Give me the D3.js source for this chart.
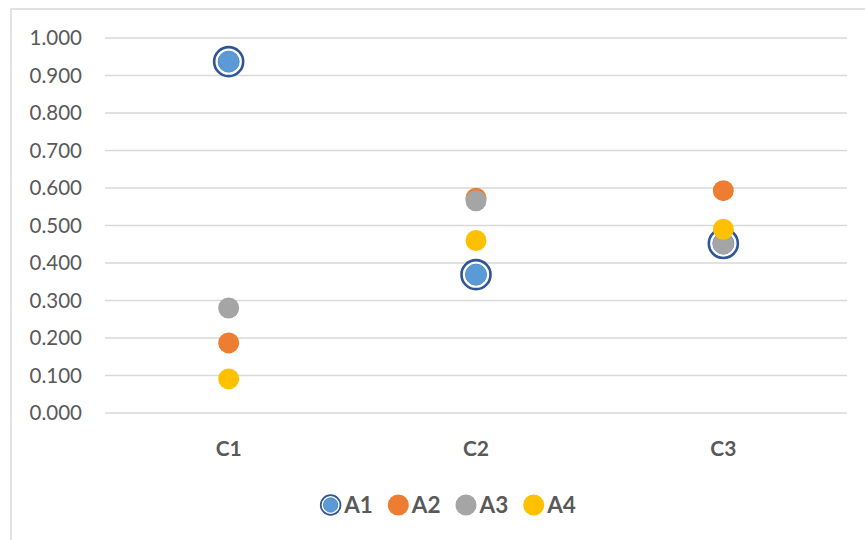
<!DOCTYPE html>
<html lang="en">
<head>
  <meta charset="UTF-8">
  <title>A1-A4 by category</title>
  <script src="https://d3js.org/d3.v7.min.js"></script>
  <style>
    body { margin: 0; background: #fff; font-family: Lato, "Open Sans", sans-serif; }
    .tick-label { font-size: 20.5px; fill: #595959; }
    .cat-label { font-size: 21px; font-weight: bold; fill: #595959; }
    .legend-label { font-size: 22.5px; font-weight: bold; fill: #595959; }
  </style>
</head>
<body>
  <div id="chart"></div>
  <script>
    const categories = ["C1", "C2", "C3"];
    const seriesNames = ["A1", "A2", "A3", "A4"];
    const seriesColors = ["#5B9BD5", "#ED7D31", "#A5A5A5", "#FFC000"];
    const A1 = [0.937, 0.369, 0.452];
    const A2 = [0.187, 0.573, 0.593];
    const A3 = [0.280, 0.566, 0.451];
    const A4 = [0.091, 0.460, 0.490];
    const yTicks = [0, 0.1, 0.2, 0.3, 0.4, 0.5, 0.6, 0.7, 0.8, 0.9, 1.0];

    const allSeries = [A1, A2, A3, A4];

    const W = 865, H = 540;
    const svg = d3.select("#chart").append("svg")
      .attr("width", W)
      .attr("height", H);

    // chart area frame (runs off the right and bottom edges)
    svg.append("rect")
      .attr("x", 11).attr("y", 9)
      .attr("width", 900).attr("height", 600)
      .attr("fill", "#fff")
      .attr("stroke", "#D9D9D9")
      .attr("stroke-width", 1.5);

    const x = d3.scaleBand()
      .domain(categories)
      .range([105, 847]);

    const y = d3.scaleLinear()
      .domain([0, 1])
      .range([413, 38]);

    // gridlines
    svg.append("g")
      .selectAll("line")
      .data(yTicks)
      .enter().append("line")
      .attr("x1", 105).attr("x2", 847)
      .attr("y1", d => y(d)).attr("y2", d => y(d))
      .attr("stroke", "#D9D9D9")
      .attr("stroke-width", 1.5);

    // y tick labels
    svg.append("g")
      .selectAll("text")
      .data(yTicks)
      .enter().append("text")
      .attr("class", "tick-label")
      .attr("x", 82)
      .attr("y", d => y(d))
      .attr("dy", "0.35em")
      .attr("text-anchor", "end")
      .text(d3.format(".3f"));

    // category labels
    svg.append("g")
      .selectAll("text")
      .data(categories)
      .enter().append("text")
      .attr("class", "cat-label")
      .attr("x", d => x(d) + x.bandwidth() / 2)
      .attr("y", 449)
      .attr("dy", "0.35em")
      .attr("text-anchor", "middle")
      .text(d => d);

    // s = scale of the marker (legend uses smaller A1 marker)
    function drawMarker(g, i, cx, cy, s) {
      if (i === 0) {
        g.append("circle")
          .attr("cx", cx).attr("cy", cy).attr("r", 14.5 * s)
          .attr("fill", "#fff")
          .attr("stroke", "#2F5597")
          .attr("stroke-width", 2.6 * s);
        g.append("circle")
          .attr("cx", cx).attr("cy", cy).attr("r", 10.5 * s)
          .attr("fill", seriesColors[0])
          .attr("stroke", "#4F8BCB")
          .attr("stroke-width", 1);
      } else {
        g.append("circle")
          .attr("cx", cx).attr("cy", cy).attr("r", 10.5)
          .attr("fill", seriesColors[i]);
      }
    }

    // points, drawn series by series so later ones sit on top
    const pts = svg.append("g");
    allSeries.forEach((vals, i) => {
      const g = pts.append("g");
      vals.forEach((v, j) => {
        drawMarker(g, i, x(categories[j]) + x.bandwidth() / 2, y(v), 1);
      });
    });

    // legend
    const legend = svg.append("g");
    const items = [];
    seriesNames.forEach((name, i) => {
      const g = legend.append("g");
      const t = g.append("text")
        .attr("class", "legend-label")
        .attr("dy", "0.35em")
        .text(name);
      items.push({ g, t, i, w: t.node().getComputedTextLength() });
    });
    const markerW = 21, gapIn = 3, gapOut = 15;
    const total = d3.sum(items, d => markerW + gapIn + d.w) + gapOut * (items.length - 1);
    let cursor = 448 - total / 2;
    items.forEach(d => {
      drawMarker(d.g, d.i, markerW / 2, 0, 0.68);
      d.t.attr("x", markerW + gapIn);
      d.g.attr("transform", `translate(${cursor},505)`);
      d.g.select("text").raise();
      cursor += markerW + gapIn + d.w + gapOut;
    });
  </script>
</body>
</html>
